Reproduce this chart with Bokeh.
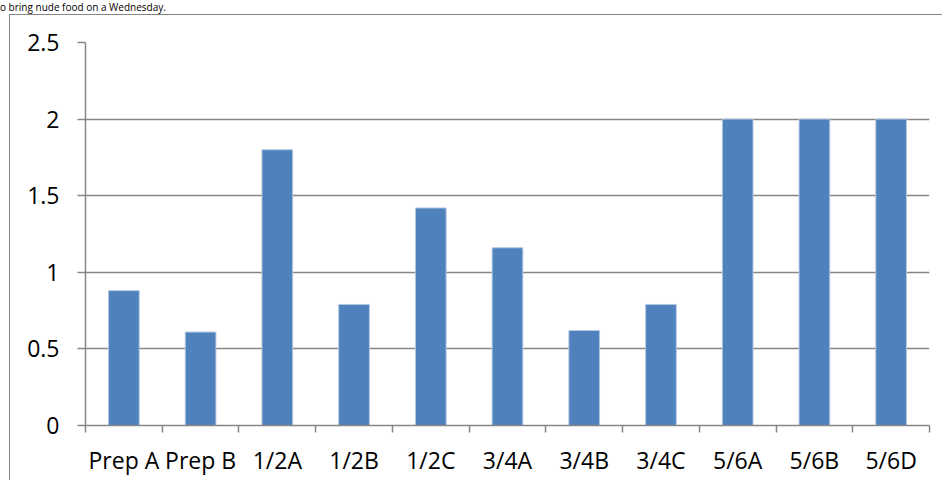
from bokeh.plotting import figure
from bokeh.models import Range1d, FixedTicker, ColumnDataSource, Div
from bokeh.layouts import column
from bokeh.embed import file_html
from bokeh.resources import INLINE

categories = ["Prep A", "Prep B", "1/2A", "1/2B", "1/2C", "3/4A", "3/4B", "3/4C", "5/6A", "5/6B", "5/6D"]
values = [0.88, 0.61, 1.80, 0.79, 1.42, 1.16, 0.62, 0.79, 2.0, 2.0, 2.0]
y_ticks = [0, 0.5, 1, 1.5, 2, 2.5]
y_tick_labels = ["0", "0.5", "1", "1.5", "2", "2.5"]
title_text = "o bring nude food on a Wednesday."

FONT = "Open Sans"
GRAY = "#868686"
n = len(categories)
positions = list(range(n))
boundaries = [i - 0.5 for i in range(n + 1)]

src = ColumnDataSource(dict(x=positions, top=values, cat=categories))

title_div = Div(text=title_text, width=944, height=14, margin=(0, 0, 0, 0),
                styles={"font-family": FONT, "font-size": "10px", "line-height": "14px",
                        "color": "black", "white-space": "nowrap"})

p = figure(width=933, height=466, output_backend="svg", toolbar_location=None,
           x_range=Range1d(-0.5, n - 0.5), y_range=Range1d(0, 2.5),
           min_border_left=75, min_border_right=14, min_border_top=27, min_border_bottom=56,
           margin=(0, 0, 0, 9),
           styles={"border-left": "1.5px solid #868686", "border-top": "1.5px solid #868686"})
p.outline_line_color = None
p.background_fill_color = "white"
p.border_fill_color = "white"

p.vbar(x="x", top="top", width=0.4, source=src, fill_color="#4F81BD",
       line_color="#b3c7e3", line_width=1)

# y axis
p.yaxis.ticker = FixedTicker(ticks=y_ticks)
p.yaxis.major_label_overrides = {t: l for t, l in zip(y_ticks, y_tick_labels)}
p.yaxis.axis_line_color = GRAY
p.yaxis.axis_line_width = 1.5
p.yaxis.major_tick_line_color = GRAY
p.yaxis.major_tick_line_width = 1.5
p.yaxis.major_tick_out = 8
p.yaxis.major_tick_in = 0
p.yaxis.minor_tick_line_color = None
p.yaxis.major_label_standoff = 18
p.yaxis.major_label_text_font = FONT
p.yaxis.major_label_text_font_size = "23px"
p.yaxis.major_label_text_color = "black"

p.ygrid.ticker = FixedTicker(ticks=y_ticks)
p.ygrid.grid_line_color = GRAY
p.ygrid.grid_line_width = 1.5
p.xgrid.grid_line_color = None

# x axis: labels at centers, ticks at category boundaries
p.xaxis.ticker = FixedTicker(ticks=positions, minor_ticks=boundaries)
p.xaxis.major_label_overrides = {i: c for i, c in zip(positions, categories)}
p.xaxis.axis_line_color = GRAY
p.xaxis.axis_line_width = 1.5
p.xaxis.major_tick_line_color = None
p.xaxis.major_tick_out = 0
p.xaxis.major_tick_in = 0
p.xaxis.minor_tick_line_color = GRAY
p.xaxis.minor_tick_line_width = 1.5
p.xaxis.minor_tick_out = 7
p.xaxis.minor_tick_in = 0
p.xaxis.major_label_standoff = 11
p.xaxis.major_label_text_font = FONT
p.xaxis.major_label_text_font_size = "23px"
p.xaxis.major_label_text_color = "black"

layout = column(title_div, p, spacing=0)

open("out.html", "w").write(file_html(layout, INLINE))
